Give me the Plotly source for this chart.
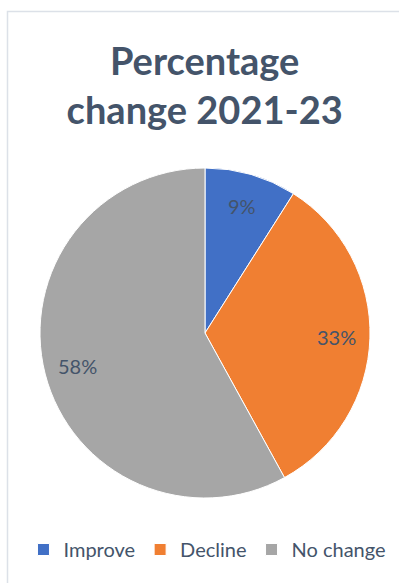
import math
import plotly.graph_objects as go

categories = ["Improve", "Decline", "No change"]
values = [9, 33, 58]
colors = ["#4170C6", "#F07F32", "#A6A6A6"]

W, H = 399, 583
TEXT = "#44546A"

# pie domain (paper fractions)
dom_x = [40 / W, 370 / W]
dom_y = [(H - 498) / H, (H - 168) / H]
LABEL_R = 0.80  # label distance as fraction of radius

fig = go.Figure()
fig.add_trace(go.Pie(
    labels=categories,
    values=values,
    sort=False,
    direction="clockwise",
    rotation=0,
    marker=dict(colors=colors, line=dict(color="white", width=1)),
    textinfo="none",
    domain=dict(x=dom_x, y=dom_y),
    hoverinfo="label+percent",
))

# percentage labels placed along each slice bisector
cx = (dom_x[0] + dom_x[1]) / 2 * W
cy = (dom_y[0] + dom_y[1]) / 2 * H
radius = min((dom_x[1] - dom_x[0]) * W, (dom_y[1] - dom_y[0]) * H) / 2
total = sum(values)
cum = 0
annotations = []
for v in values:
    mid = (cum + v / 2) / total * 2 * math.pi
    cum += v
    px = cx + LABEL_R * radius * math.sin(mid)
    py = cy + LABEL_R * radius * math.cos(mid)
    annotations.append(dict(
        x=px / W, y=py / H, xref="paper", yref="paper",
        text=f"{round(v / total * 100)}%", showarrow=False,
        xanchor="center", yanchor="middle",
        font=dict(family="Lato", size=20, color=TEXT),
    ))

fig.update_layout(
    width=W, height=H,
    margin=dict(l=0, r=0, t=0, b=0),
    paper_bgcolor="white",
    title=dict(
        text="<b>Percentage<br>change 2021-23</b>",
        font=dict(family="Lato", size=38, color=TEXT),
        x=0.513, xanchor="center",
        y=1 - 75 / H, yanchor="top",
    ),
    annotations=annotations,
    showlegend=True,
    legend=dict(
        orientation="h",
        x=0.52, xanchor="center",
        y=1 - 530 / H, yanchor="top",
        font=dict(family="Lato", size=20, color=TEXT),
        traceorder="normal",
    ),
    shapes=[dict(
        type="rect", xref="paper", yref="paper",
        x0=7.5 / W, x1=1.05, y0=-0.05, y1=1 - 11.5 / H,
        line=dict(color="#DCE1E8", width=1.5),
        fillcolor="rgba(0,0,0,0)", layer="below",
    )],
)

fig.write_html("out.html")
